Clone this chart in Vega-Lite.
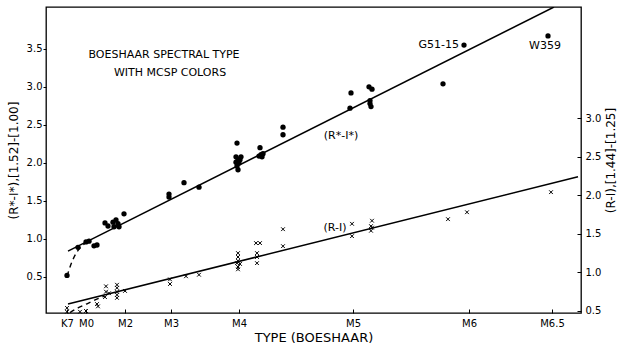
{
  "$schema": "https://vega.github.io/schema/vega-lite/v6.json",
  "width": 535,
  "height": 306,
  "autosize": "none",
  "padding": {"left": 46, "top": 7, "right": 39, "bottom": 33},
  "background": "white",
  "config": {
    "view": {"stroke": "black", "strokeWidth": 1.3},
    "axis": {"domain": false, "grid": false, "tickColor": "black", "labelColor": "black", "titleColor": "black", "labelFont": "DejaVu Sans", "titleFont": "DejaVu Sans", "labelFontSize": 10, "titleFontSize": 12, "titleFontWeight": "normal", "tickWidth": 1}
  },
  "datasets": {
    "rstar": [
      {"pos": 21, "v": 0.52}, {"pos": 32, "v": 0.89}, {"pos": 40, "v": 0.96}, {"pos": 43, "v": 0.97}, {"pos": 48, "v": 0.91}, {"pos": 51, "v": 0.92},
      {"pos": 59, "v": 1.21}, {"pos": 62, "v": 1.17}, {"pos": 67, "v": 1.22}, {"pos": 68, "v": 1.16}, {"pos": 70, "v": 1.25}, {"pos": 72, "v": 1.20}, {"pos": 73, "v": 1.16}, {"pos": 78, "v": 1.33},
      {"pos": 123, "v": 1.59}, {"pos": 123, "v": 1.55}, {"pos": 138, "v": 1.74}, {"pos": 153, "v": 1.68},
      {"pos": 191, "v": 2.26}, {"pos": 190, "v": 2.08}, {"pos": 192, "v": 2.05}, {"pos": 194, "v": 2.04}, {"pos": 195, "v": 2.08}, {"pos": 190, "v": 2.01}, {"pos": 193, "v": 2.00}, {"pos": 191, "v": 1.96}, {"pos": 192, "v": 1.91},
      {"pos": 214, "v": 2.20}, {"pos": 213, "v": 2.09}, {"pos": 216, "v": 2.08}, {"pos": 217, "v": 2.12}, {"pos": 215, "v": 2.11},
      {"pos": 237, "v": 2.47}, {"pos": 237, "v": 2.37},
      {"pos": 305, "v": 2.92}, {"pos": 304, "v": 2.72},
      {"pos": 323, "v": 3.00}, {"pos": 326, "v": 2.97}, {"pos": 324, "v": 2.82}, {"pos": 324, "v": 2.78}, {"pos": 325, "v": 2.74},
      {"pos": 397, "v": 3.04}, {"pos": 418, "v": 3.55}, {"pos": 502, "v": 3.67}
    ],
    "rstarFit": [{"pos": 22, "v": 0.84}, {"pos": 508, "v": 4.05}],
    "rstarDash": [{"pos": 21, "v": 0.51}, {"pos": 26, "v": 0.70}, {"pos": 31, "v": 0.83}, {"pos": 37, "v": 0.92}, {"pos": 42, "v": 0.97}],
    "labelsL": [
      {"pos": 118, "v": 3.42, "label": "BOESHAAR SPECTRAL TYPE"},
      {"pos": 124, "v": 3.18, "label": "WITH MCSP COLORS"},
      {"pos": 295, "v": 2.35, "label": "(R*-I*)"},
      {"pos": 499, "v": 3.54, "label": "W359"}
    ],
    "labelsG": [{"pos": 413, "v": 3.55, "label": "G51-15"}],
    "r": [
      {"pos": 21, "v": 0.54}, {"pos": 21, "v": 0.49}, {"pos": 34, "v": 0.49}, {"pos": 40, "v": 0.50}, {"pos": 51, "v": 0.59}, {"pos": 52, "v": 0.56},
      {"pos": 59, "v": 0.68}, {"pos": 60, "v": 0.75}, {"pos": 60, "v": 0.82}, {"pos": 63, "v": 0.73},
      {"pos": 71, "v": 0.84}, {"pos": 71, "v": 0.80}, {"pos": 71, "v": 0.75}, {"pos": 71, "v": 0.71}, {"pos": 71, "v": 0.67}, {"pos": 79, "v": 0.76},
      {"pos": 124, "v": 0.91}, {"pos": 124, "v": 0.85}, {"pos": 140, "v": 0.95}, {"pos": 153, "v": 0.97},
      {"pos": 192, "v": 1.25}, {"pos": 192, "v": 1.20}, {"pos": 192, "v": 1.15}, {"pos": 191, "v": 1.12}, {"pos": 194, "v": 1.11}, {"pos": 192, "v": 1.07}, {"pos": 192, "v": 1.04},
      {"pos": 210, "v": 1.38}, {"pos": 214, "v": 1.38}, {"pos": 211, "v": 1.25}, {"pos": 211, "v": 1.20}, {"pos": 211, "v": 1.12},
      {"pos": 237, "v": 1.56}, {"pos": 237, "v": 1.34},
      {"pos": 306, "v": 1.63}, {"pos": 306, "v": 1.47},
      {"pos": 326, "v": 1.67}, {"pos": 325, "v": 1.60}, {"pos": 326, "v": 1.58}, {"pos": 325, "v": 1.54},
      {"pos": 402, "v": 1.69}, {"pos": 421, "v": 1.78}, {"pos": 505, "v": 2.04}
    ],
    "rFit": [{"pos": 22, "v": 0.59}, {"pos": 532, "v": 2.24}],
    "rDash": [{"pos": 24, "v": 0.48}, {"pos": 32, "v": 0.54}, {"pos": 42, "v": 0.60}, {"pos": 52, "v": 0.66}, {"pos": 58, "v": 0.69}],
    "labelsR": [{"pos": 289, "v": 1.58, "label": "(R-I)"}]
  },
  "encoding": {
    "x": {
      "field": "pos", "type": "quantitative",
      "scale": {"domain": [0, 535], "nice": false, "zero": false},
      "axis": {
        "title": "TYPE (BOESHAAR)",
        "titleFontSize": 13,
        "values": [21, 40, 79, 125, 193, 307, 423, 506],
        "labelExpr": "datum.value == 21 ? 'K7' : datum.value == 40 ? 'M0' : datum.value == 79 ? 'M2' : datum.value == 125 ? 'M3' : datum.value == 193 ? 'M4' : datum.value == 307 ? 'M5' : datum.value == 423 ? 'M6' : 'M6.5'",
        "labelOverlap": false, "labelBound": false, "labelFlush": false,
        "tickSize": -4, "labelPadding": 9, "titlePadding": 3
      }
    }
  },
  "layer": [
    {
      "encoding": {
        "y": {
          "field": "v", "type": "quantitative",
          "scale": {"domain": [0.026, 4.05], "nice": false, "zero": false},
          "axis": {"orient": "left", "title": "(R*-I*),[1.52]-[1.00]", "values": [0.5, 1, 1.5, 2, 2.5, 3, 3.5], "format": ".1f", "tickSize": 3, "labelPadding": 1, "titlePadding": 6}
        }
      },
      "layer": [
        {"data": {"name": "rstarFit"}, "mark": {"type": "line", "color": "black", "strokeWidth": 1.5, "clip": true}},
        {"data": {"name": "rstarDash"}, "mark": {"type": "line", "color": "black", "strokeWidth": 1.4, "strokeDash": [5, 4], "interpolate": "monotone"}},
        {"data": {"name": "rstar"}, "mark": {"type": "point", "shape": "circle", "filled": true, "color": "black", "size": 28, "opacity": 1}},
        {"data": {"name": "labelsL"}, "mark": {"type": "text", "font": "DejaVu Sans", "fontSize": 11, "color": "black", "align": "center", "baseline": "middle"}, "encoding": {"text": {"field": "label"}}},
        {"data": {"name": "labelsG"}, "mark": {"type": "text", "font": "DejaVu Sans", "fontSize": 11, "color": "black", "align": "right", "baseline": "middle"}, "encoding": {"text": {"field": "label"}}}
      ]
    },
    {
      "encoding": {
        "y": {
          "field": "v", "type": "quantitative",
          "scale": {"domain": [0.474, 4.44], "nice": false, "zero": false},
          "axis": {"orient": "right", "title": "(R-I),[1.44]-[1.25]", "values": [0.5, 1, 1.5, 2, 2.5, 3], "format": ".1f", "tickSize": -4, "labelPadding": 8, "titlePadding": 5, "titleAngle": 270, "titleBaseline": "top"}
        }
      },
      "layer": [
        {"data": {"name": "rFit"}, "mark": {"type": "line", "color": "black", "strokeWidth": 1.5}},
        {"data": {"name": "rDash"}, "mark": {"type": "line", "color": "black", "strokeWidth": 1.4, "strokeDash": [5, 4], "interpolate": "monotone"}},
        {"data": {"name": "r"}, "mark": {"type": "point", "shape": "M-1,-1L1,1M-1,1L1,-1", "filled": false, "color": "black", "strokeWidth": 1, "size": 14, "opacity": 1}},
        {"data": {"name": "labelsR"}, "mark": {"type": "text", "font": "DejaVu Sans", "fontSize": 11, "color": "black", "align": "center", "baseline": "middle"}, "encoding": {"text": {"field": "label"}}}
      ]
    }
  ],
  "resolve": {"scale": {"y": "independent"}}
}
